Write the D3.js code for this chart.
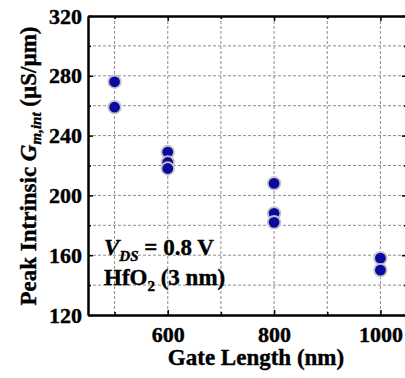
<!DOCTYPE html>
<html><head><meta charset="utf-8">
<script src="https://cdn.jsdelivr.net/npm/d3@7"></script>
<style>
body{margin:0;background:#fff}
svg{display:block}
</style></head>
<body><svg id="c" width="405" height="378"></svg>
<script>
const gateLength=[500,500,600,600,600,800,800,800,1000,1000];
const gmPeak=[276,259,229,222,218,208,188,182,158,150];
const xMajorTicks=[600,800,1000];
const xMinorTicks=[500,700,900];
const yMajorTicks=[120,160,200,240,280,320];
const yMinorTicks=[140,180,220,260,300];
const xGrid=[500,600,700,800,900,1000];
const yGrid=[140,160,180,200,220,240,260,280,300];

const FONT="Liberation Serif, Times New Roman, Times, DejaVu Serif, serif";
const svg=d3.select("#c").attr("font-family",FONT).attr("font-weight","bold");
const L=88,T=16,R=407,B=315;
const x=d3.scaleLinear().domain([450,1050]).range([L,R]);
const y=d3.scaleLinear().domain([120,320]).range([B,T]);

// grid
const g=svg.append("g").attr("stroke","#8c8c8c").attr("stroke-width",1).attr("stroke-dasharray","3,2");
g.selectAll(".gx").data(xGrid).join("line").attr("x1",d=>x(d)).attr("x2",d=>x(d)).attr("y1",T).attr("y2",B);
g.selectAll(".gy").data(yGrid).join("line").attr("y1",d=>y(d)).attr("y2",d=>y(d)).attr("x1",L).attr("x2",R);

// points
svg.append("g").selectAll("circle").data(gateLength.map((d,i)=>[d,gmPeak[i]])).join("circle")
  .attr("cx",d=>x(d[0])).attr("cy",d=>y(d[1])).attr("r",6.3)
  .attr("fill","#0a0aa0").attr("stroke","#c4c4c4").attr("stroke-width",1.8);

function style(sel){
  sel.attr("font-family",FONT).attr("font-size",22).attr("font-weight","bold");
  sel.selectAll("path").attr("stroke","#000").attr("stroke-width",2);
  sel.selectAll("line").attr("stroke","#000").attr("stroke-width",1.5);
  sel.selectAll("text").attr("fill","#000").attr("stroke","#000").attr("stroke-width",0.4);
}
// bottom
svg.append("g").attr("transform",`translate(0,${B})`)
  .call(d3.axisBottom(x).tickValues(xMinorTicks).tickSizeInner(-3).tickSizeOuter(0).tickFormat(""))
  .call(style);
svg.append("g").attr("transform",`translate(0,${B})`)
  .call(d3.axisBottom(x).tickValues(xMajorTicks).tickSizeInner(-5).tickSizeOuter(0).tickPadding(11).tickFormat(d3.format("d")))
  .call(style);
// top
svg.append("g").attr("transform",`translate(0,${T})`)
  .call(d3.axisTop(x).tickValues(xMinorTicks).tickSizeInner(-3).tickSizeOuter(0).tickFormat(""))
  .call(style);
svg.append("g").attr("transform",`translate(0,${T})`)
  .call(d3.axisTop(x).tickValues(xMajorTicks).tickSizeInner(-5).tickSizeOuter(0).tickFormat(""))
  .call(style);
// left
svg.append("g").attr("transform",`translate(${L},0)`)
  .call(d3.axisLeft(y).tickValues(yMinorTicks).tickSizeInner(-3).tickSizeOuter(0).tickFormat(""))
  .call(style);
svg.append("g").attr("transform",`translate(${L},0)`)
  .call(d3.axisLeft(y).tickValues(yMajorTicks).tickSizeInner(-5).tickSizeOuter(0).tickPadding(6).tickFormat(d3.format("d")))
  .call(style);
// right
svg.append("g").attr("transform",`translate(${R},0)`)
  .call(d3.axisRight(y).tickValues(yMinorTicks).tickSizeInner(-3).tickSizeOuter(0).tickFormat(""))
  .call(style);
svg.append("g").attr("transform",`translate(${R},0)`)
  .call(d3.axisRight(y).tickValues(yMajorTicks).tickSizeInner(-5).tickSizeOuter(0).tickFormat(""))
  .call(style);

const txt=s=>s.attr("fill","#000").attr("stroke","#000").attr("stroke-width",0.4).attr("font-size",23);
// x title
svg.append("text").attr("x",256).attr("y",365).attr("text-anchor","middle").call(txt).text("Gate Length (nm)");
// y title
const yt=svg.append("text").attr("transform",`translate(36,166) rotate(-90)`).attr("text-anchor","middle").call(txt);
yt.append("tspan").text("Peak Intrinsic ");
yt.append("tspan").attr("font-style","italic").text("G");
yt.append("tspan").attr("font-style","italic").attr("font-size",15).attr("dy",5).text("m,int");
yt.append("tspan").attr("dy",-5).text(" (\u00b5S/\u00b5m)");

// annotation
const a1=svg.append("text").attr("x",104).attr("y",255).call(txt);
a1.append("tspan").attr("font-style","italic").text("V");
a1.append("tspan").attr("font-style","italic").attr("font-size",15).attr("dy",6).text("DS");
a1.append("tspan").attr("dy",-6).text(" = 0.8 V");
const a2=svg.append("text").attr("x",104).attr("y",285).call(txt);
a2.append("tspan").text("HfO");
a2.append("tspan").attr("font-size",15).attr("dy",6).text("2");
a2.append("tspan").attr("dy",-6).text(" (3 nm)");
</script></body></html>
